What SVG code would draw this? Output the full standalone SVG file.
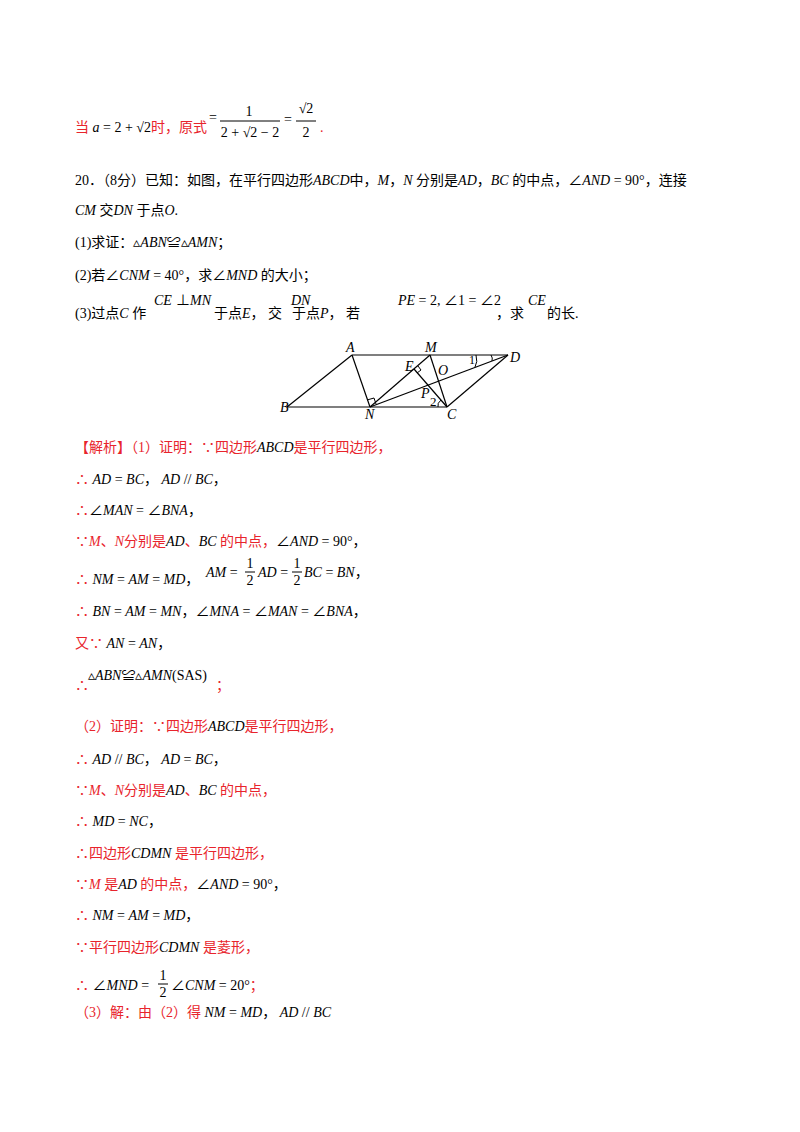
<svg xmlns="http://www.w3.org/2000/svg" width="800" height="1132" viewBox="0 0 800 1132">
<style>
text{font-family:"Liberation Serif","Noto Sans CJK SC",serif;font-size:14px;fill:#000}
.r{fill:#e8242c}
.i{font-style:italic}
.l{font-family:"Liberation Serif",serif;font-style:italic;font-size:14px}
#fig line{stroke:#000;stroke-width:1.2}
</style>
<rect width="800" height="1132" fill="#fff"/>
<g id="t0">
<text x="75" y="132" font-size="13.5"><tspan class="r">当</tspan><tspan class="i"> a</tspan> = 2 + √2<tspan class="r">时，原式</tspan></text>
<text x="209" y="122">=</text>
<text x="249" y="116" text-anchor="middle">1</text>
<line x1="220" y1="121" x2="280" y2="121" stroke="#000"/>
<text x="250" y="137" text-anchor="middle">2 + √2 − 2</text>
<text x="284" y="124">=</text>
<text x="306" y="113" text-anchor="middle">√2</text>
<line x1="296" y1="121" x2="316" y2="121" stroke="#000"/>
<text x="306" y="137" text-anchor="middle">2</text>
<text x="320" y="132" class="r">.</text>
</g>
<g id="q">
<text x="75" y="185">20．（8分）已知：如图，在平行四边形<tspan class="i">ABCD</tspan>中，<tspan class="i">M</tspan>，<tspan class="i">N</tspan> 分别是<tspan class="i">AD</tspan>，<tspan class="i">BC</tspan> 的中点，∠<tspan class="i">AND</tspan> = 90°，连接</text>
<text x="75" y="215"><tspan class="i">CM</tspan> 交<tspan class="i">DN</tspan> 于点<tspan class="i">O</tspan>.</text>
<text x="75" y="247">(1)求证：▵<tspan class="i">ABN</tspan>≌▵<tspan class="i">AMN</tspan>；</text>
<text x="75" y="280">(2)若∠<tspan class="i">CNM</tspan> = 40°，求∠<tspan class="i">MND</tspan> 的大小；</text>
<text x="75" y="318">(3)过点<tspan class="i">C</tspan> 作</text>
<text x="154" y="305" class="i">CE</text><text x="176" y="305">⊥</text><text x="190" y="305" class="i">MN</text>
<text x="214" y="318">于点<tspan class="i">E</tspan>，  交</text>
<text x="291" y="305" class="i">DN</text>
<text x="292" y="318">于点<tspan class="i">P</tspan>，   若</text>
<text x="398" y="305"><tspan class="i">PE</tspan> = 2, ∠1 = ∠2</text>
<text x="496" y="318">，求</text>
<text x="528" y="305" class="i">CE</text>
<text x="547" y="318">的长.</text>
</g>
<g id="fig">
<line x1="352" y1="355" x2="508" y2="355"/>
<line x1="287" y1="407" x2="447" y2="407"/>
<line x1="352" y1="355" x2="287" y2="407"/>
<line x1="508" y1="355" x2="447" y2="407"/>
<line x1="352" y1="355" x2="370" y2="407"/>
<line x1="370" y1="407" x2="430" y2="355"/>
<line x1="370" y1="407" x2="508" y2="355"/>
<line x1="430" y1="355" x2="447" y2="407"/>
<line x1="447" y1="407" x2="414" y2="369"/>
<path d="M367 400 L374 398 L376 404" fill="none" stroke="#000"/>
<path d="M418 366 L421 370 L417 373" fill="none" stroke="#000"/>
<path d="M476 355 Q478 362 475 367 M491 355 Q493 358 492 361" fill="none" stroke="#000"/>
<path d="M441 400 Q437 403 438 407" fill="none" stroke="#000"/>
<text x="346" y="352" class="l">A</text>
<text x="425" y="352" class="l">M</text>
<text x="510" y="362" class="l">D</text>
<text x="280" y="412" class="l">B</text>
<text x="365" y="419" class="l">N</text>
<text x="447" y="419" class="l">C</text>
<text x="405" y="371" class="l">E</text>
<text x="438" y="375" class="l">O</text>
<text x="421" y="398" class="l">P</text>
<text x="430" y="406" style="font-family:'Liberation Serif';font-size:13px">2</text>
<text x="469" y="364" style="font-family:'Liberation Serif';font-size:12px">1</text>
</g>
<g id="sol">
<text x="75" y="452"><tspan class="r">【解析】（1）证明：∵四边形</tspan><tspan class="i">ABCD</tspan><tspan class="r">是平行四边形，</tspan></text>
<text x="75" y="484"><tspan class="r">∴</tspan> <tspan class="i">AD</tspan> = <tspan class="i">BC</tspan>，  <tspan class="i">AD</tspan> // <tspan class="i">BC</tspan>，</text>
<text x="75" y="515"><tspan class="r">∴</tspan>∠<tspan class="i">MAN</tspan> = ∠<tspan class="i">BNA</tspan>，</text>
<text x="75" y="546"><tspan class="r">∵</tspan><tspan class="i r">M</tspan><tspan class="r">、</tspan><tspan class="i r">N</tspan><tspan class="r">分别是</tspan><tspan class="i">AD</tspan><tspan class="r">、</tspan><tspan class="i">BC</tspan><tspan class="r"> 的中点，</tspan>∠<tspan class="i">AND</tspan> = 90°，</text>
<text x="75" y="584"><tspan class="r">∴</tspan> <tspan class="i">NM</tspan> = <tspan class="i">AM</tspan> = <tspan class="i">MD</tspan>，</text>
<text x="206" y="577"><tspan class="i">AM</tspan> =</text>
<text x="250" y="568" text-anchor="middle" font-size="12">1</text>
<line x1="245" y1="572" x2="255" y2="572" stroke="#000"/>
<text x="250" y="585" text-anchor="middle" font-size="12">2</text>
<text x="258" y="577"><tspan class="i">AD</tspan> =</text>
<text x="297" y="568" text-anchor="middle" font-size="12">1</text>
<line x1="292" y1="572" x2="302" y2="572" stroke="#000"/>
<text x="297" y="585" text-anchor="middle" font-size="12">2</text>
<text x="304" y="577"><tspan class="i">BC</tspan> = <tspan class="i">BN</tspan>，</text>
<text x="75" y="616"><tspan class="r">∴</tspan> <tspan class="i">BN</tspan> = <tspan class="i">AM</tspan> = <tspan class="i">MN</tspan>，∠<tspan class="i">MNA</tspan> = ∠<tspan class="i">MAN</tspan> = ∠<tspan class="i">BNA</tspan>，</text>
<text x="75" y="648"><tspan class="r">又∵</tspan> <tspan class="i">AN</tspan> = <tspan class="i">AN</tspan>，</text>
<text x="75" y="690" class="r">∴</text>
<text x="88" y="680">▵<tspan class="i">ABN</tspan>≌▵<tspan class="i">AMN</tspan>(SAS)</text>
<text x="216" y="690" class="r">；</text>
<text x="75" y="731" class="r">（2）证明：∵四边形<tspan class="i" fill="#000">ABCD</tspan>是平行四边形，</text>
<text x="75" y="764"><tspan class="r">∴</tspan> <tspan class="i">AD</tspan> // <tspan class="i">BC</tspan>，  <tspan class="i">AD</tspan> = <tspan class="i">BC</tspan>，</text>
<text x="75" y="795"><tspan class="r">∵</tspan><tspan class="i r">M</tspan><tspan class="r">、</tspan><tspan class="i r">N</tspan><tspan class="r">分别是</tspan><tspan class="i">AD</tspan><tspan class="r">、</tspan><tspan class="i">BC</tspan><tspan class="r"> 的中点，</tspan></text>
<text x="75" y="826"><tspan class="r">∴</tspan> <tspan class="i">MD</tspan> = <tspan class="i">NC</tspan>，</text>
<text x="75" y="858"><tspan class="r">∴四边形</tspan><tspan class="i">CDMN</tspan><tspan class="r"> 是平行四边形，</tspan></text>
<text x="75" y="889"><tspan class="r">∵</tspan><tspan class="i r">M</tspan><tspan class="r"> 是</tspan><tspan class="i">AD</tspan><tspan class="r"> 的中点，</tspan>∠<tspan class="i">AND</tspan> = 90°，</text>
<text x="75" y="920"><tspan class="r">∴</tspan> <tspan class="i">NM</tspan> = <tspan class="i">AM</tspan> = <tspan class="i">MD</tspan>，</text>
<text x="75" y="952"><tspan class="r">∵平行四边形</tspan><tspan class="i">CDMN</tspan><tspan class="r"> 是菱形，</tspan></text>
<text x="75" y="990"><tspan class="r">∴</tspan> ∠<tspan class="i">MND</tspan> =</text>
<text x="163" y="980" text-anchor="middle" font-size="12">1</text>
<line x1="158" y1="984" x2="168" y2="984" stroke="#000"/>
<text x="163" y="997" text-anchor="middle" font-size="12">2</text>
<text x="171" y="990">∠<tspan class="i">CNM</tspan> = 20°<tspan class="r">；</tspan></text>
<text x="75" y="1017"><tspan class="r">（3）解：由（2）得</tspan> <tspan class="i">NM</tspan> = <tspan class="i">MD</tspan>，  <tspan class="i">AD</tspan> // <tspan class="i">BC</tspan></text>
</g>
</svg>
